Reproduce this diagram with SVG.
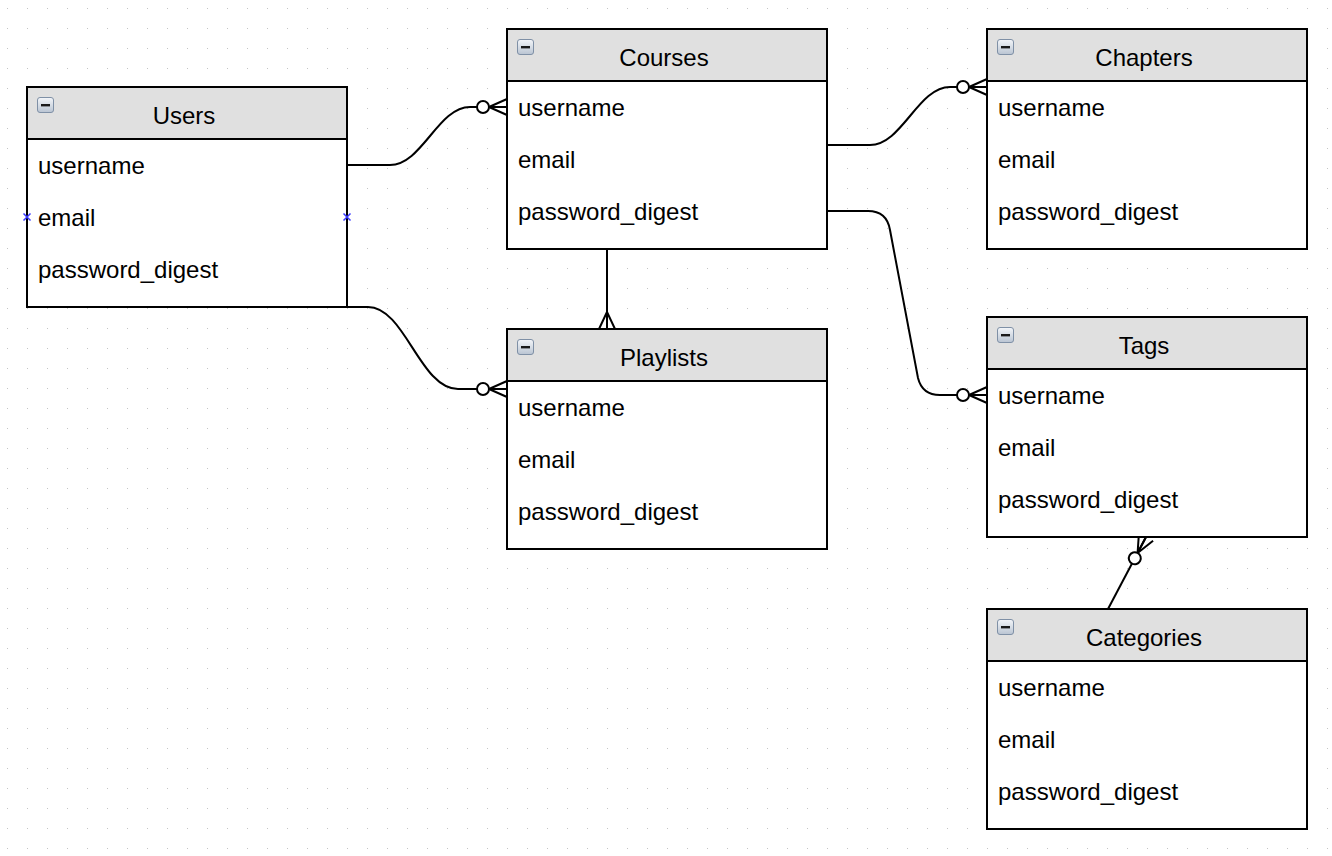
<svg xmlns="http://www.w3.org/2000/svg" width="1332" height="856" viewBox="0 0 1332 856">
  <style>
    .box { fill: #ffffff; stroke: #000000; stroke-width: 2; }
    .head { fill: #e0e0e0; stroke: #000000; stroke-width: 2; }
    .title { font-family: "Liberation Sans", Arial, sans-serif; font-size: 24px; fill: #000000; text-anchor: middle; }
    .field { font-family: "Liberation Sans", Arial, sans-serif; font-size: 24px; fill: #000000; }
    .edge { fill: none; stroke: #000000; stroke-width: 2; }
    .pin { fill: none; stroke: #3a3aff; stroke-width: 1.5; }
  </style>
  <defs>
    <pattern id="grid" patternUnits="userSpaceOnUse" x="7" y="8" width="20" height="20">
      <rect x="0" y="0" width="1" height="1" fill="#c4c4c4"/>
    </pattern>
    <linearGradient id="iconFill" x1="0" y1="0" x2="0" y2="1">
      <stop offset="0" stop-color="#f4f6f9"/>
      <stop offset="1" stop-color="#b9c4d2"/>
    </linearGradient>
    <!-- collapse toggle shown in each table header -->
    <g id="toggle">
      <rect x="0.5" y="0.5" width="16" height="15" rx="2.5" fill="url(#iconFill)" stroke="#7f90a6" stroke-width="1"/>
      <rect x="4" y="7" width="9" height="2.4" fill="#1a1a1a"/>
    </g>
    <!-- zero-or-many end: circle plus crow's foot -->
    <marker id="zeroMany" markerUnits="userSpaceOnUse" viewBox="-32 -12 34 24" refX="0" refY="0" markerWidth="34" markerHeight="24" orient="auto" overflow="visible">
      <path d="M-18,0 L0,-8 M-18,0 L0,0 M-18,0 L0,8" fill="none" stroke="#000" stroke-width="2"/>
      <circle cx="-24" cy="0" r="6" fill="#fff" stroke="#000" stroke-width="2"/>
    </marker>
    <!-- many end: crow's foot only -->
    <marker id="many" markerUnits="userSpaceOnUse" viewBox="-20 -12 22 24" refX="0" refY="0" markerWidth="22" markerHeight="24" orient="auto" overflow="visible">
      <path d="M-17,0 L0,-8 M-17,0 L0,0 M-17,0 L0,8" fill="none" stroke="#000" stroke-width="2"/>
    </marker>
  </defs>

  <rect x="0" y="0" width="1332" height="856" fill="#ffffff"/>
  <rect x="0" y="0" width="1332" height="856" fill="url(#grid)"/>

  <g id="connectors">
    <path class="edge" d="M347,165 H390 C422,165 438,107 470,107 H507" marker-end="url(#zeroMany)"/>
    <path class="edge" d="M347,307 H368 C405,307 420,389 458,389 H507" marker-end="url(#zeroMany)"/>
    <path class="edge" d="M827,145 H870 C902,145 918,87 950,87 H987" marker-end="url(#zeroMany)"/>
    <path class="edge" d="M827,211 H868 C882,211 888,218 890,230 L918,378 C921,390 928,395 940,395 H987" marker-end="url(#zeroMany)"/>
    <path class="edge" d="M607,249 V329" marker-end="url(#many)"/>
    <path class="edge" d="M1108,609 L1146,537" marker-end="url(#zeroMany)"/>
  </g>

  <g id="users" transform="translate(27,87)">
    <rect class="box" x="0" y="0" width="320" height="220"/>
    <rect class="head" x="0" y="0" width="320" height="52"/>
    <use href="#toggle" x="10" y="10"/>
    <text class="title" x="157" y="37">Users</text>
    <text class="field" x="11" y="87">username</text>
    <text class="field" x="11" y="139">email</text>
    <text class="field" x="11" y="191">password_digest</text>
    <path class="pin" d="M-3.5,126.5 l7,7 m0,-7 l-7,7 M316.5,126.5 l7,7 m0,-7 l-7,7"/>
  </g>

  <g id="courses" transform="translate(507,29)">
    <rect class="box" x="0" y="0" width="320" height="220"/>
    <rect class="head" x="0" y="0" width="320" height="52"/>
    <use href="#toggle" x="10" y="10"/>
    <text class="title" x="157" y="37">Courses</text>
    <text class="field" x="11" y="87">username</text>
    <text class="field" x="11" y="139">email</text>
    <text class="field" x="11" y="191">password_digest</text>
  </g>

  <g id="chapters" transform="translate(987,29)">
    <rect class="box" x="0" y="0" width="320" height="220"/>
    <rect class="head" x="0" y="0" width="320" height="52"/>
    <use href="#toggle" x="10" y="10"/>
    <text class="title" x="157" y="37">Chapters</text>
    <text class="field" x="11" y="87">username</text>
    <text class="field" x="11" y="139">email</text>
    <text class="field" x="11" y="191">password_digest</text>
  </g>

  <g id="playlists" transform="translate(507,329)">
    <rect class="box" x="0" y="0" width="320" height="220"/>
    <rect class="head" x="0" y="0" width="320" height="52"/>
    <use href="#toggle" x="10" y="10"/>
    <text class="title" x="157" y="37">Playlists</text>
    <text class="field" x="11" y="87">username</text>
    <text class="field" x="11" y="139">email</text>
    <text class="field" x="11" y="191">password_digest</text>
  </g>

  <g id="tags" transform="translate(987,317)">
    <rect class="box" x="0" y="0" width="320" height="220"/>
    <rect class="head" x="0" y="0" width="320" height="52"/>
    <use href="#toggle" x="10" y="10"/>
    <text class="title" x="157" y="37">Tags</text>
    <text class="field" x="11" y="87">username</text>
    <text class="field" x="11" y="139">email</text>
    <text class="field" x="11" y="191">password_digest</text>
  </g>

  <g id="categories" transform="translate(987,609)">
    <rect class="box" x="0" y="0" width="320" height="220"/>
    <rect class="head" x="0" y="0" width="320" height="52"/>
    <use href="#toggle" x="10" y="10"/>
    <text class="title" x="157" y="37">Categories</text>
    <text class="field" x="11" y="87">username</text>
    <text class="field" x="11" y="139">email</text>
    <text class="field" x="11" y="191">password_digest</text>
  </g>
</svg>
